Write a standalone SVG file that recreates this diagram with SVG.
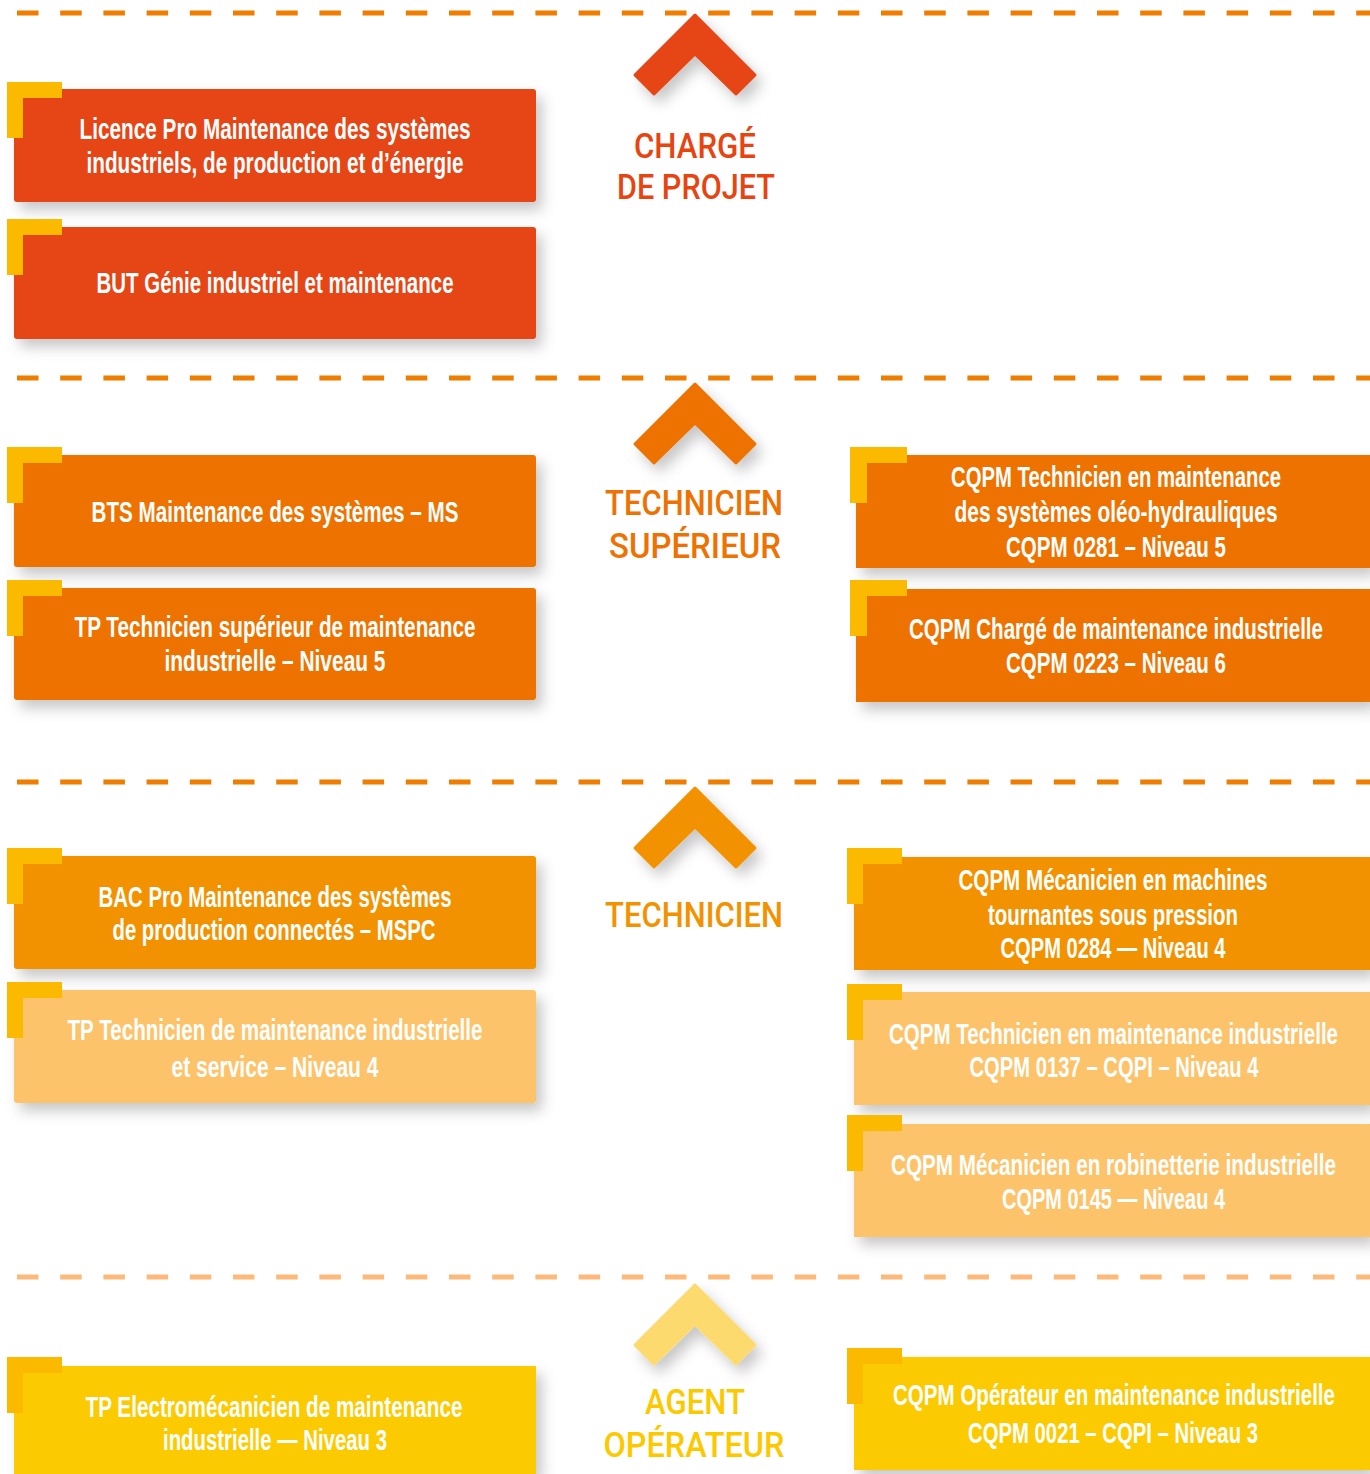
<svg xmlns="http://www.w3.org/2000/svg" width="1370" height="1474" viewBox="0 0 1370 1474">
<defs>
<filter id="sh" x="-10%" y="-20%" width="125%" height="150%">
<feDropShadow dx="6" dy="8" stdDeviation="7" flood-color="#000" flood-opacity="0.22"/>
</filter>
<style>
.box text{font-family:"Liberation Sans",Arial,sans-serif;font-size:29px;font-weight:bold;fill:#fff;text-anchor:middle}
.tier text{font-family:Roboto,"Liberation Sans",sans-serif;font-size:35px;font-weight:500;text-anchor:middle}
.corner{fill:#FBBA00}
.sep{fill:none;stroke-width:5;stroke-dasharray:21.5 21.7}
.c1{fill:#E64512}.c2{fill:#EE7203}.c3{fill:#F39200}.c3l{fill:#FDC36B}.c4{fill:#FCCA00}
</style>
</defs>
<rect width="1370" height="1474" fill="#fff"/>

<g id="separators">
<line class="sep" x1="17" y1="13" x2="1370" y2="13" stroke="#EF7D00"/>
<line class="sep" x1="17" y1="378" x2="1370" y2="378" stroke="#EF7D00"/>
<line class="sep" x1="17" y1="782" x2="1370" y2="782" stroke="#EF7D00"/>
<line class="sep" x1="17" y1="1277" x2="1370" y2="1277" stroke="#FDB97A"/>
</g>

<g id="tier-charge-de-projet" class="tier">
<polygon points="695,15 755,75 736,94 695,54 654,94 635,75" fill="#E64512" stroke="#E64512" stroke-width="3" stroke-linejoin="round" filter="url(#sh)"/>
<text x="695" y="158" fill="#E64512" textLength="122" lengthAdjust="spacingAndGlyphs">CHARGÉ</text>
<text x="696" y="199" fill="#E64512" textLength="158" lengthAdjust="spacingAndGlyphs">DE PROJET</text>
</g>
<g id="tier-technicien-superieur" class="tier">
<polygon points="695,384 755,444 736,463 695,423 654,463 635,444" fill="#EE7203" stroke="#EE7203" stroke-width="3" stroke-linejoin="round" filter="url(#sh)"/>
<text x="694" y="515" fill="#EE7203" textLength="178" lengthAdjust="spacingAndGlyphs">TECHNICIEN</text>
<text x="695" y="558" fill="#EE7203" textLength="172" lengthAdjust="spacingAndGlyphs">SUPÉRIEUR</text>
</g>
<g id="tier-technicien" class="tier">
<polygon points="695,788 755,848 736,867 695,827 654,867 635,848" fill="#F39200" stroke="#F39200" stroke-width="3" stroke-linejoin="round" filter="url(#sh)"/>
<text x="694" y="927" fill="#F39200" textLength="178" lengthAdjust="spacingAndGlyphs">TECHNICIEN</text>
</g>
<g id="tier-agent-operateur" class="tier">
<polygon points="695,1285 755,1345 736,1364 695,1324 654,1364 635,1345" fill="#FDDA6E" stroke="#FDDA6E" stroke-width="3" stroke-linejoin="round" filter="url(#sh)"/>
<text x="695" y="1414" fill="#FCC800" textLength="100" lengthAdjust="spacingAndGlyphs">AGENT</text>
<text x="694" y="1457" fill="#FCC800" textLength="181" lengthAdjust="spacingAndGlyphs">OPÉRATEUR</text>
</g>

<g id="licence-pro" class="box">
<rect class="c1" x="14" y="89" width="522" height="113" rx="3" filter="url(#sh)"/>
<path class="corner" d="M7 82h55v16h-39v40h-16z"/>
<text transform="translate(275 139) scale(0.62 1)" textLength="630.6" lengthAdjust="spacingAndGlyphs">Licence Pro Maintenance des systèmes</text>
<text transform="translate(275 173) scale(0.62 1)" textLength="608.1" lengthAdjust="spacingAndGlyphs">industriels, de production et d’énergie</text>
</g>
<g id="but" class="box">
<rect class="c1" x="14" y="227" width="522" height="112" rx="3" filter="url(#sh)"/>
<path class="corner" d="M7 219h55v16h-39v40h-16z"/>
<text transform="translate(275 293) scale(0.62 1)" textLength="575.8" lengthAdjust="spacingAndGlyphs">BUT Génie industriel et maintenance</text>
</g>
<g id="bts-ms" class="box">
<rect class="c2" x="14" y="455" width="522" height="112" rx="3" filter="url(#sh)"/>
<path class="corner" d="M7 447h55v16h-39v40h-16z"/>
<text transform="translate(275 522) scale(0.62 1)" textLength="591.9" lengthAdjust="spacingAndGlyphs">BTS Maintenance des systèmes – MS</text>
</g>
<g id="tp-technicien-superieur" class="box">
<rect class="c2" x="14" y="588" width="522" height="112" rx="3" filter="url(#sh)"/>
<path class="corner" d="M7 580h55v16h-39v40h-16z"/>
<text transform="translate(275 637) scale(0.62 1)" textLength="646.8" lengthAdjust="spacingAndGlyphs">TP Technicien supérieur de maintenance</text>
<text transform="translate(275 671) scale(0.62 1)" textLength="356.5" lengthAdjust="spacingAndGlyphs">industrielle – Niveau 5</text>
</g>
<g id="bac-pro-mspc" class="box">
<rect class="c3" x="14" y="856" width="522" height="113" rx="3" filter="url(#sh)"/>
<path class="corner" d="M7 848h55v16h-39v40h-16z"/>
<text transform="translate(275 907) scale(0.62 1)" textLength="569.4" lengthAdjust="spacingAndGlyphs">BAC Pro Maintenance des systèmes</text>
<text transform="translate(274 940) scale(0.62 1)" textLength="521" lengthAdjust="spacingAndGlyphs">de production connectés – MSPC</text>
</g>
<g id="tp-technicien-maintenance" class="box">
<rect class="c3l" x="14" y="990" width="522" height="113" rx="3" filter="url(#sh)"/>
<path class="corner" d="M7 982h55v16h-39v40h-16z"/>
<text transform="translate(275 1040) scale(0.62 1)" textLength="669.4" lengthAdjust="spacingAndGlyphs">TP Technicien de maintenance industrielle</text>
<text transform="translate(275 1077) scale(0.62 1)" textLength="333.9" lengthAdjust="spacingAndGlyphs">et service – Niveau 4</text>
</g>
<g id="tp-electromecanicien" class="box">
<rect class="c4" x="14" y="1366" width="522" height="108" filter="url(#sh)"/>
<path class="corner" d="M7 1357h55v16h-39v40h-16z"/>
<text transform="translate(274 1417) scale(0.62 1)" textLength="608.1" lengthAdjust="spacingAndGlyphs">TP Electromécanicien de maintenance</text>
<text transform="translate(275 1450) scale(0.62 1)" textLength="361.3" lengthAdjust="spacingAndGlyphs">industrielle — Niveau 3</text>
</g>

<g id="cqpm-0281" class="box">
<rect class="c2" x="856" y="455" width="514" height="113" filter="url(#sh)"/>
<path class="corner" d="M850 447h57v16h-40v40h-17z"/>
<text transform="translate(1116 487) scale(0.62 1)" textLength="532.3" lengthAdjust="spacingAndGlyphs">CQPM Technicien en maintenance</text>
<text transform="translate(1116 522) scale(0.62 1)" textLength="521" lengthAdjust="spacingAndGlyphs">des systèmes oléo-hydrauliques</text>
<text transform="translate(1116 557) scale(0.62 1)" textLength="354.8" lengthAdjust="spacingAndGlyphs">CQPM 0281 – Niveau 5</text>
</g>
<g id="cqpm-0223" class="box">
<rect class="c2" x="856" y="589" width="514" height="113" filter="url(#sh)"/>
<path class="corner" d="M850 580h57v16h-40v40h-17z"/>
<text transform="translate(1116 639) scale(0.62 1)" textLength="667.7" lengthAdjust="spacingAndGlyphs">CQPM Chargé de maintenance industrielle</text>
<text transform="translate(1116 673) scale(0.62 1)" textLength="354.8" lengthAdjust="spacingAndGlyphs">CQPM 0223 – Niveau 6</text>
</g>
<g id="cqpm-0284" class="box">
<rect class="c3" x="854" y="857" width="516" height="113" filter="url(#sh)"/>
<path class="corner" d="M847 848h55v16h-39v40h-16z"/>
<text transform="translate(1113 890) scale(0.62 1)" textLength="498.4" lengthAdjust="spacingAndGlyphs">CQPM Mécanicien en machines</text>
<text transform="translate(1113 925) scale(0.62 1)" textLength="403.2" lengthAdjust="spacingAndGlyphs">tournantes sous pression</text>
<text transform="translate(1113 958) scale(0.62 1)" textLength="362.9" lengthAdjust="spacingAndGlyphs">CQPM 0284 — Niveau 4</text>
</g>
<g id="cqpm-0137" class="box">
<rect class="c3l" x="854" y="992" width="516" height="113" filter="url(#sh)"/>
<path class="corner" d="M847 984h55v16h-39v40h-16z"/>
<text transform="translate(1113.5 1044) scale(0.62 1)" textLength="724.2" lengthAdjust="spacingAndGlyphs">CQPM Technicien en maintenance industrielle</text>
<text transform="translate(1114 1077) scale(0.62 1)" textLength="466.1" lengthAdjust="spacingAndGlyphs">CQPM 0137 – CQPI – Niveau 4</text>
</g>
<g id="cqpm-0145" class="box">
<rect class="c3l" x="854" y="1124" width="516" height="113" filter="url(#sh)"/>
<path class="corner" d="M847 1115h55v16h-39v40h-16z"/>
<text transform="translate(1113.5 1175) scale(0.62 1)" textLength="717.7" lengthAdjust="spacingAndGlyphs">CQPM Mécanicien en robinetterie industrielle</text>
<text transform="translate(1113.5 1209) scale(0.62 1)" textLength="359.7" lengthAdjust="spacingAndGlyphs">CQPM 0145 — Niveau 4</text>
</g>
<g id="cqpm-0021" class="box">
<rect class="c4" x="854" y="1357" width="516" height="113" filter="url(#sh)"/>
<path class="corner" d="M847 1348h55v16h-39v40h-16z"/>
<text transform="translate(1114 1405) scale(0.62 1)" textLength="712.9" lengthAdjust="spacingAndGlyphs">CQPM Opérateur en maintenance industrielle</text>
<text transform="translate(1113 1443) scale(0.62 1)" textLength="467.7" lengthAdjust="spacingAndGlyphs">CQPM 0021 – CQPI – Niveau 3</text>
</g>
</svg>
